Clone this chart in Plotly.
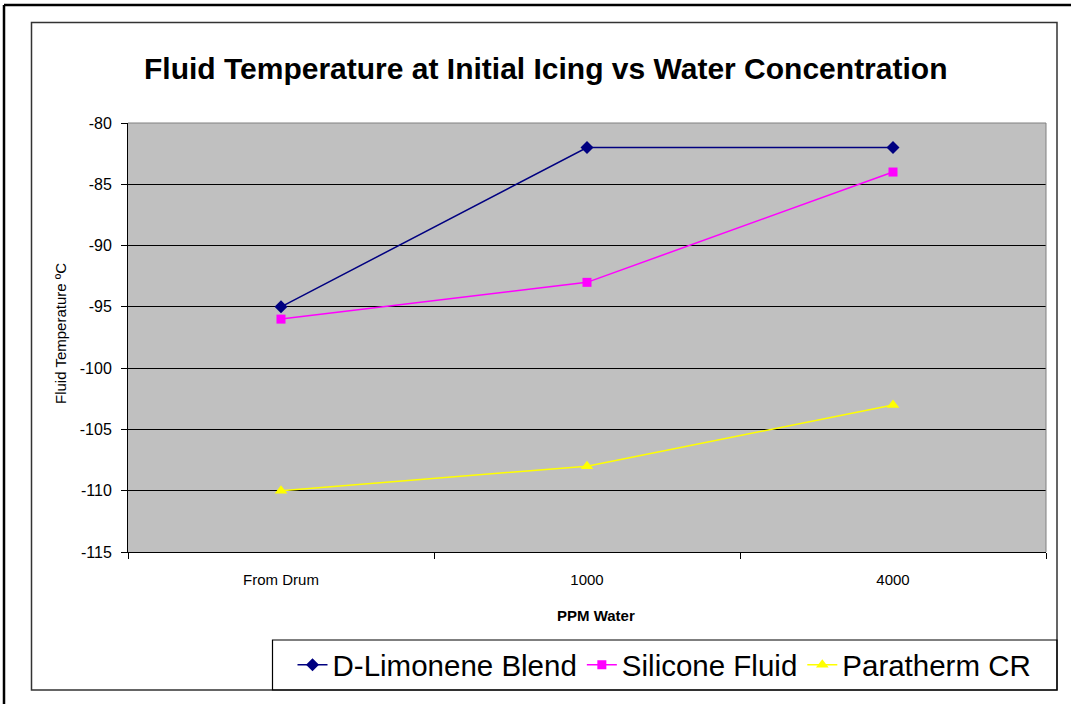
import plotly.graph_objects as go

categories = ["From Drum", "1000", "4000"]
d_limonene = [-95, -82, -82]
silicone = [-96, -93, -84]
paratherm = [-110, -108, -103]
y_ticks = [-80, -85, -90, -95, -100, -105, -110, -115]
y_tick_labels = ["-80", "-85", "-90", "-95", "-100", "-105", "-110", "-115"]

W, H = 1071, 704
L, R, T, B = 128, 1046, 123, 552
pw, ph = R - L, B - T

def px(x):
    return (x - L) / pw

def py(y):
    return (B - y) / ph

fig = go.Figure()
fig.add_trace(go.Scatter(x=categories, y=d_limonene, name="D-Limonene Blend",
                         mode="lines+markers", line=dict(color="#000080", width=1.5),
                         marker=dict(symbol="diamond", size=10, color="#000080")))
fig.add_trace(go.Scatter(x=categories, y=silicone, name="Silicone Fluid",
                         mode="lines+markers", line=dict(color="#FF00FF", width=1.5),
                         marker=dict(symbol="square", size=9, color="#FF00FF")))
fig.add_trace(go.Scatter(x=categories, y=paratherm, name="Paratherm CR",
                         mode="lines+markers", line=dict(color="#FFFF00", width=1.5),
                         marker=dict(symbol="triangle-up", size=11, color="#FFFF00")))

font = "Arial, Liberation Sans, sans-serif"
fig.update_layout(
    width=W, height=H,
    margin=dict(l=L, r=W - R, t=T, b=H - B, autoexpand=False),
    paper_bgcolor="white", plot_bgcolor="#C0C0C0",
    font=dict(family=font, color="black", size=12),
    showlegend=True,
    legend=dict(orientation="h", x=px(664.5), y=py(665), xanchor="center", yanchor="middle",
                font=dict(size=29.5, family=font, color="black"), bgcolor="rgba(0,0,0,0)",
                borderwidth=0, itemwidth=30),
    xaxis=dict(type="category", range=[-0.5, 2.5], tickson="boundaries", ticks="outside",
               ticklen=6, tickcolor="black", showgrid=False, showline=True, linecolor="black",
               linewidth=1, tickfont=dict(size=15), zeroline=False, mirror=False,
               ticklabelstandoff=14),
    yaxis=dict(range=[-115, -80], tickvals=y_ticks, ticktext=y_tick_labels, ticks="outside",
               ticklen=6, tickcolor="black",
               showgrid=True, gridcolor="black", gridwidth=1, showline=True, linecolor="black",
               linewidth=1, tickfont=dict(size=16), zeroline=False, ticklabelstandoff=6),
)

fig.add_annotation(text="<b>Fluid Temperature at Initial Icing vs Water Concentration</b>",
                   x=px(545), y=py(68), xref="paper", yref="paper", showarrow=False,
                   font=dict(size=30, family=font, color="black"), xanchor="center", yanchor="middle")
fig.add_annotation(text="<b>PPM Water</b>", x=px(596), y=py(615), xref="paper", yref="paper",
                   showarrow=False, font=dict(size=15, family=font), xanchor="center", yanchor="middle")
fig.add_annotation(text="Fluid Temperature ºC", x=px(60), y=py(334), xref="paper", yref="paper",
                   showarrow=False, textangle=-90, font=dict(size=15, family=font),
                   xanchor="center", yanchor="middle")

shapes = [
    dict(type="line", xref="paper", yref="paper", x0=px(4), x1=px(4), y0=py(5), y1=py(704),
         line=dict(color="black", width=2.5)),
    dict(type="line", xref="paper", yref="paper", x0=px(4), x1=px(1071), y0=py(5), y1=py(5),
         line=dict(color="black", width=2.5)),
    dict(type="rect", xref="paper", yref="paper", x0=px(31.5), x1=px(1057), y0=py(690), y1=py(22.5),
         line=dict(color="#333333", width=1.5)),
    dict(type="rect", xref="paper", yref="paper", x0=px(272.5), x1=px(1057), y0=py(690), y1=py(640),
         line=dict(color="black", width=1.2)),
    dict(type="line", xref="paper", yref="paper", x0=0, x1=1, y0=1, y1=1,
         line=dict(color="#808080", width=1)),
    dict(type="line", xref="paper", yref="paper", x0=1, x1=1, y0=0, y1=1,
         line=dict(color="#808080", width=1)),
]
fig.update_layout(shapes=shapes)

fig.write_html("out.html", config={"displayModeBar": False},
               post_script="document.body.style.margin='0';document.body.style.padding='0';")
